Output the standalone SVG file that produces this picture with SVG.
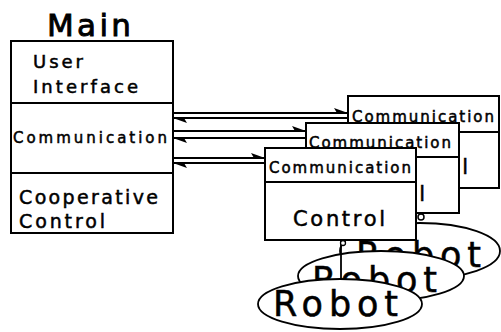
<svg xmlns="http://www.w3.org/2000/svg" width="501" height="332" viewBox="0 0 501 332">
<style>
.box{fill:#fff;stroke:#000;stroke-width:2}
.div{stroke:#000;stroke-width:2;fill:none}
.t{font-family:"DejaVu Sans","Liberation Sans",sans-serif;fill:#000;stroke:#000;stroke-width:0.5}
.conn{stroke:#000;stroke-width:1.8;fill:none}
.ell{fill:#fff;stroke:#000;stroke-width:1.8}
</style>
<defs>
<marker id="harp" viewBox="-15 -6 16 12" refX="0" refY="0" markerWidth="16" markerHeight="12" markerUnits="userSpaceOnUse" orient="auto">
<path d="M0,0 L-14,-5 L-11,0 Z" fill="#000"/>
</marker>
</defs>
<rect width="501" height="332" fill="#fff"/>

<g id="main">
<text class="t" x="47" y="36" font-size="31" textLength="84" style="stroke-width:0.9">Main</text>
<rect class="box" x="11" y="41" width="162" height="192"/>
<line class="div" x1="11" y1="103" x2="173" y2="103"/>
<line class="div" x1="11" y1="173" x2="173" y2="173"/>
<text class="t" x="33" y="68" font-size="18" textLength="50">User</text>
<text class="t" x="33" y="93" font-size="18" textLength="105">Interface</text>
<text class="t" x="13" y="143" font-size="15" textLength="154">Communication</text>
<text class="t" x="19" y="204" font-size="19" textLength="139">Cooperative</text>
<text class="t" x="19" y="228" font-size="19" textLength="86">Control</text>
</g>

<g id="robot3">
<ellipse class="ell" cx="420" cy="251" rx="80" ry="28"/>
<text class="t" x="356" y="267" font-size="35" textLength="125">Robot</text>
</g>
<g id="robot2">
<ellipse class="ell" cx="381" cy="276" rx="83" ry="25"/>
<text class="t" x="312" y="292" font-size="35" textLength="125">Robot</text>
</g>
<g id="robot1">
<ellipse class="ell" cx="340" cy="304" rx="82" ry="25"/>
<text class="t" x="273" y="316" font-size="35" textLength="125">Robot</text>
</g>

<g id="links">
<line class="conn" x1="341" y1="240" x2="341" y2="279"/>
<circle cx="343" cy="243" r="2.5" fill="#fff" stroke="#000" stroke-width="1.3"/>
<circle cx="421" cy="217" r="3" fill="#fff" stroke="#000" stroke-width="1.5"/>
</g>

<g id="module1">
<rect class="box" x="348" y="96" width="151" height="92"/>
<line class="div" x1="348" y1="132" x2="499" y2="132"/>
<text class="t" x="352" y="122" font-size="15" textLength="142">Communication</text>
<text class="t" x="376" y="174" font-size="21" textLength="92">Control</text>
</g>
<g id="module2">
<rect class="box" x="306" y="123" width="153" height="90"/>
<line class="div" x1="306" y1="157" x2="459" y2="157"/>
<text class="t" x="309" y="148" font-size="15" textLength="142">Communication</text>
<text class="t" x="333" y="201" font-size="21" textLength="92">Control</text>
</g>
<g id="module3">
<rect class="box" x="265" y="148" width="151" height="92"/>
<line class="div" x1="265" y1="182" x2="416" y2="182"/>
<text class="t" x="269" y="173" font-size="15" textLength="142">Communication</text>
<text class="t" x="293" y="226" font-size="21" textLength="92">Control</text>
</g>

<g id="connectors">
<line class="conn" x1="173" y1="113" x2="348" y2="113" marker-end="url(#harp)"/>
<line class="conn" x1="348" y1="118" x2="173" y2="118" marker-end="url(#harp)"/>
<line class="conn" x1="173" y1="131" x2="306" y2="131" marker-end="url(#harp)"/>
<line class="conn" x1="306" y1="138" x2="173" y2="138" marker-end="url(#harp)"/>
<line class="conn" x1="173" y1="158" x2="265" y2="158" marker-end="url(#harp)"/>
<line class="conn" x1="265" y1="163" x2="173" y2="163" marker-end="url(#harp)"/>
</g>
</svg>
